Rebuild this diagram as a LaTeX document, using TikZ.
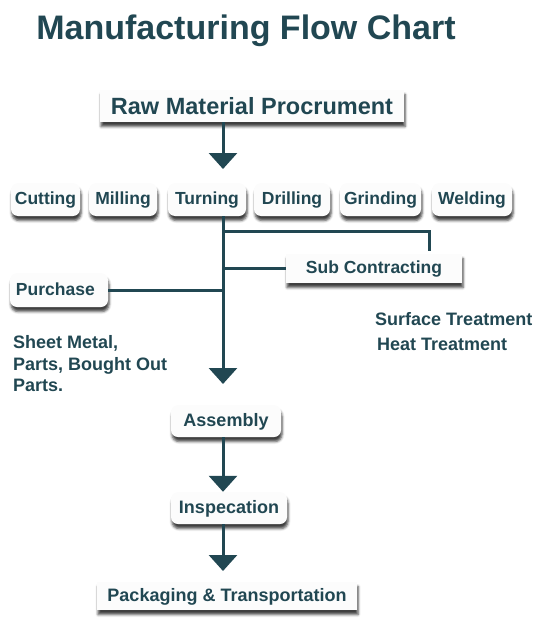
\documentclass[tikz,border=0pt]{standalone}
\usepackage{fontspec}
\setmainfont{Liberation Sans}
\usepackage{tikz}
\usetikzlibrary{arrows.meta,%
                shadows.blur}
\definecolor{slate}{RGB}{33,71,82}
\definecolor{boxfill}{RGB}{252,252,252}

\begin{document}
\begin{tikzpicture}[x=1pt,y=-1pt]
		\useasboundingbox (0,0) rectangle (542,623);
		\tikzstyle{StepBox}=[fill=boxfill,text=slate,inner sep=0pt,
			font=\bfseries\fontsize{17.5}{20}\selectfont,text height=12pt,text depth=2pt,
			blur shadow={shadow xshift=1pt,shadow yshift=-4.5pt,shadow blur radius=2.5pt,shadow opacity=75}]
		\tikzstyle{RoundBox}=[StepBox,rounded corners=7pt]
		\tikzstyle{NoteText}=[text=slate,inner sep=0pt,font=\bfseries\fontsize{18}{21.5}\selectfont]
		\tikzstyle{FlowEdge}=[draw=slate,line width=3pt]
		\tikzstyle{FlowArrow}=[FlowEdge,-{Triangle[width=28pt,length=16pt]}]
		% title
		\node (title) [NoteText,anchor=base,font=\bfseries\fontsize{34}{40}\selectfont] at (246,40) {Manufacturing Flow Chart};
		\node (raw) [StepBox,minimum width=304pt,minimum height=32pt,
			font=\bfseries\fontsize{23.5}{26}\selectfont,text height=16pt,text depth=0pt] at (252,106) {Raw Material Procrument};
		% operations
		\node (cut) [RoundBox,minimum width=69pt,minimum height=33pt] at (45.5,199.5) {Cutting};
		\node (mill) [RoundBox,minimum width=68pt,minimum height=33pt] at (123,199.5) {Milling};
		\node (turn) [RoundBox,minimum width=78pt,minimum height=33pt] at (207,199.5) {Turning};
		\node (drill) [RoundBox,minimum width=76pt,minimum height=33pt] at (292,199.5) {Drilling};
		\node (grind) [RoundBox,minimum width=81pt,minimum height=33pt] at (380.5,199.5) {Grinding};
		\node (weld) [RoundBox,minimum width=80pt,minimum height=33pt] at (472,199.5) {Welding};
		% side branches
		\node (sub) [StepBox,minimum width=176pt,minimum height=29pt] at (374,268.5) {Sub Contracting};
		\node (purch) [RoundBox,minimum width=98pt,minimum height=34pt,text width=86pt,align=left] at (59,290) {Purchase};
		\node (treat1) [NoteText,anchor=base west] at (375,325) {Surface Treatment};
		\node (treat2) [NoteText,anchor=base west] at (377,350) {Heat Treatment};
		\node (parts) [NoteText,anchor=north west,align=left] at (13,335.5) {Sheet Metal,\\Parts, Bought Out\\Parts.};
		% final steps
		\node (asm) [RoundBox,minimum width=110pt,minimum height=32pt,font=\bfseries\fontsize{18}{21}\selectfont] at (226,421) {Assembly};
		\node (insp) [RoundBox,minimum width=116pt,minimum height=32pt,font=\bfseries\fontsize{18}{21}\selectfont] at (229,508) {Inspecation};
		\node (pack) [StepBox,minimum width=260pt,minimum height=28pt,font=\bfseries\fontsize{18}{21}\selectfont] at (227,596) {Packaging \& Transportation};
		%
		\coordinate (tipA) at (223,169);
		\coordinate (tipB) at (223,384);
		\coordinate (jTop) at (223,231);
		\coordinate (tipD) at (223,571);
		\draw[FlowArrow] (raw.south -| tipA) -- (tipA);
		\draw[FlowArrow] (turn.south -| tipB) -- (tipB);
		\draw[FlowEdge,shorten >=3pt] (jTop) -| ([xshift=55pt]sub.north);
		\draw[FlowEdge] (sub.west) -- (sub.west -| tipB);
		\draw[FlowEdge] (purch.east) -- (purch.east -| tipB);
		\draw[FlowArrow] (asm.south -| tipB) -- (insp.north -| tipB);
		\draw[FlowArrow] (insp.south -| tipD) -- (tipD);
	\end{tikzpicture}
\end{document}
